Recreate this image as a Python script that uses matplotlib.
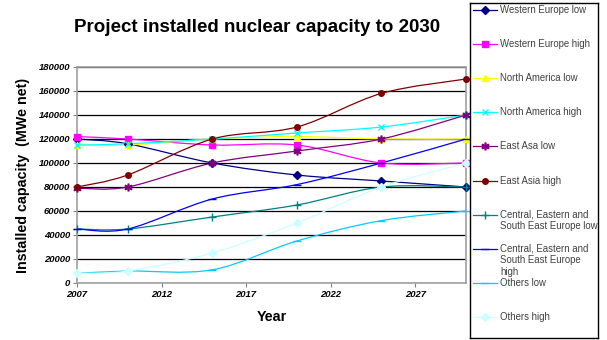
import numpy as np
import matplotlib
matplotlib.use("Agg")
import matplotlib.pyplot as plt
from matplotlib.path import Path
from matplotlib.patches import PathPatch

plt.rcParams["font.family"] = ["Liberation Sans", "DejaVu Sans"]

years = [2007, 2010, 2015, 2020, 2025, 2030]

we_low = [120000, 116000, 100000, 90000, 85000, 80000]
we_high = [122000, 120000, 115000, 115000, 100000, 100000]
na_low = [115000, 115000, 120000, 122000, 120000, 120000]
na_high = [115000, 116000, 120000, 125000, 130000, 140000]
ea_low = [79000, 80000, 100000, 110000, 120000, 140000]
ea_high = [80000, 90000, 120000, 130000, 158000, 170000]
cee_low = [45000, 45000, 55000, 65000, 80000, 80000]
cee_high = [45000, 45000, 70000, 82000, 100000, 120000]
oth_low = [8000, 10000, 11000, 35000, 52000, 60000]
oth_high = [8000, 10000, 25000, 50000, 80000, 100000]

names = ["Western Europe low", "Western Europe high", "North America low",
         "North America high", "East Asa low", "East Asia high",
         "Central, Eastern and\nSouth East Europe low",
         "Central, Eastern and\nSouth East Europe\nhigh",
         "Others low", "Others high"]
series = [we_low, we_high, na_low, na_high, ea_low, ea_high,
          cee_low, cee_high, oth_low, oth_high]
colors = ["#000080", "#ff00ff", "#ffff00", "#00ffff", "#800080", "#800000",
          "#008080", "#0000ff", "#00ccff", "#ccffff"]
markers = ["D", "s", "^", "x", "$*$", "o", "+", "_", "_", "D"]
msizes = [4, 5, 5, 5, 5, 4, 6, 6, 6, 4]


def smooth_path(x, y):
    # Catmull-Rom style cubic Bezier through every point (spreadsheet "smoothed line")
    pts = np.column_stack([x, y]).astype(float)
    n = len(pts)
    verts, codes = [pts[0]], [Path.MOVETO]
    for i in range(n - 1):
        p0 = pts[i - 1] if i > 0 else pts[i]
        p1, p2 = pts[i], pts[i + 1]
        p3 = pts[i + 2] if i + 2 < n else pts[i + 1]
        verts += [p1 + (p2 - p0) / 6, p2 - (p3 - p1) / 6, p2]
        codes += [Path.CURVE4] * 3
    return Path(verts, codes)


W, H = 607, 340
fig = plt.figure(figsize=(W / 100, H / 100), dpi=100)
ax = fig.add_axes([77 / W, 1 - 283 / H, (466 - 77) / W, (283 - 67) / H])

for vals, c, m, ms in zip(series, colors, markers, msizes):
    ax.add_patch(PathPatch(smooth_path(years, vals), fill=False, edgecolor=c, lw=0.9))
    ax.plot(years, vals, ls="none", marker=m, ms=ms, color=c, mec=c, mew=1.0,
            clip_on=False, zorder=3)

ax.set_xlim(2007, 2030)
ax.set_ylim(0, 180000)
ax.set_xticks(range(2007, 2030, 5))
ax.set_yticks(range(0, 180001, 20000))
ax.yaxis.grid(True, color="black", lw=0.9)
ax.set_axisbelow(True)
for s in ax.spines.values():
    s.set_color("#a0a0a0")
    s.set_linewidth(1.2)
ax.tick_params(length=3, color="#808080", labelsize=6.8, pad=2)
for lab in ax.get_xticklabels() + ax.get_yticklabels():
    lab.set_fontweight("bold")
    lab.set_fontstyle("italic")
ax.set_xlabel("Year", fontsize=10.3, fontweight="bold", labelpad=8)
ax.set_ylabel("Installed capacity  (MWe net)", fontsize=10.3, fontweight="bold", labelpad=6)

fig.text(257 / W, 1 - 28 / H, "Project installed nuclear capacity to 2030",
         ha="center", va="center", fontsize=13.5, fontweight="bold")

# legend box drawn by hand in pixel units
lx0, lx1, ly0, ly1 = 470, 598, 3, 338
lg = fig.add_axes([lx0 / W, 1 - ly1 / H, (lx1 - lx0) / W, (ly1 - ly0) / H])
lg.set_xlim(0, lx1 - lx0)
lg.set_ylim(ly1 - ly0, 0)
lg.set_xticks([])
lg.set_yticks([])
for s in lg.spines.values():
    s.set_color("black")
    s.set_linewidth(1.0)
for i, (name, c, m, ms) in enumerate(zip(names, colors, markers, msizes)):
    yy = 7 + 34.1 * i
    lg.plot([3, 27], [yy, yy], color=c, lw=0.9)
    lg.plot([15], [yy], ls="none", marker=m, ms=ms, color=c, mec=c, mew=1.0)
    lg.text(30, yy - 5, name, ha="left", va="top", fontsize=6.9,
            color="#404040", linespacing=1.2)

fig.savefig("out.png", dpi=100)
